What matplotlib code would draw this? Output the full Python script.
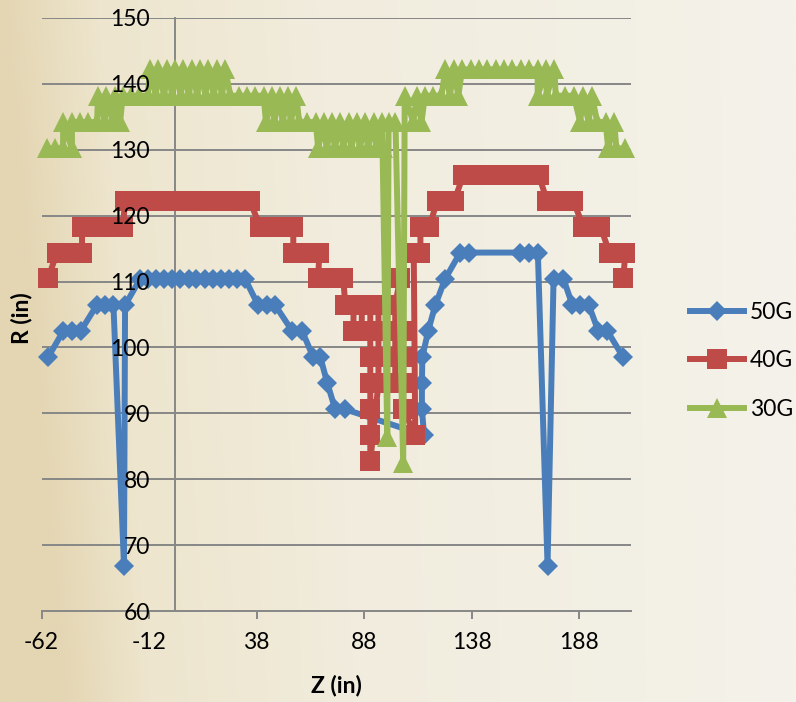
import matplotlib
matplotlib.use("Agg")
import matplotlib.pyplot as plt
import numpy as np
from matplotlib.colors import LinearSegmentedColormap

plt.rcParams['font.family'] = ['Lato', 'DejaVu Sans']
plt.rcParams['axes.unicode_minus'] = False

# ---- data (Z in inches, R in inches) ----
z50 = [-59.0, -51.9, -47.8, -43.8, -36.4, -32.5, -28.6, -23.7, -23.2,
       -16.2, -12.5, -8.7, -5.0, -1.2, 2.5, 6.3, 10.0, 13.8, 17.5, 21.3, 25.0, 28.8, 32.6,
       38.7, 42.9, 46.6, 54.5, 59.1, 64.3, 67.6, 70.8, 74.5, 79.2,
       115.8, 114.8, 114.8, 115.0, 117.7, 121.0, 125.6,
       132.6, 136.5, 160.5, 164.5, 168.7, 173.2,
       176.0, 180.6, 184.8, 188.5, 192.4, 196.8, 201.0, 208.4]
r50 = [98.5, 102.5, 102.5, 102.5, 106.4, 106.4, 106.4, 66.9, 106.4,
       110.4, 110.4, 110.4, 110.4, 110.4, 110.4, 110.4, 110.4, 110.4, 110.4, 110.4, 110.4, 110.4, 110.4,
       106.4, 106.4, 106.4, 102.5, 102.5, 98.5, 98.5, 94.6, 90.6, 90.6,
       86.7, 90.6, 94.6, 98.5, 102.5, 106.4, 110.4,
       114.4, 114.4, 114.4, 114.4, 114.4, 66.9,
       110.4, 110.4, 106.4, 106.4, 106.4, 102.5, 102.5, 98.5]

z40 = [-59.0,
       -54.8, -51.1, -47.4, -43.2,
       -43.2, -39.5, -35.8, -32.1, -28.3, -24.2,
       -23.2, -19.3, -15.4, -11.5, -7.6, -3.8, 0.1, 4.0, 7.9, 11.7, 15.6, 19.5, 23.4, 27.2, 31.1, 34.9,
       39.6, 43.5, 47.4, 51.2, 55.0,
       55.0, 58.9, 62.8, 67.1,
       66.6, 70.5, 74.3, 78.2,
       79.2, 83.1, 82.9, 86.8, 86.9, 90.8, 90.8, 90.8, 90.8, 90.8, 90.8, 90.8,
       94.6, 94.6, 94.6, 94.6, 98.5, 98.5, 98.5, 98.5, 102.4, 102.4, 102.4, 102.4,
       104.7, 106.1, 106.1, 106.1, 106.1, 111.7, 111.0, 114.1, 114.1, 118.3,
       121.8, 125.9, 129.9,
       134.0, 137.9, 141.8, 145.7, 149.6, 153.5, 157.4, 161.3, 165.2, 169.1,
       173.0, 177.0, 181.1, 185.2,
       189.9, 193.8, 197.8,
       202.0, 205.7, 209.4,
       208.4]
r40 = [110.5,
       114.4, 114.4, 114.4, 114.4,
       118.3, 118.3, 118.3, 118.3, 118.3, 118.3,
       122.2, 122.2, 122.2, 122.2, 122.2, 122.2, 122.2, 122.2, 122.2, 122.2, 122.2, 122.2, 122.2, 122.2, 122.2, 122.2,
       118.3, 118.3, 118.3, 118.3, 118.3,
       114.4, 114.4, 114.4, 114.4,
       110.5, 110.5, 110.5, 110.5,
       106.5, 106.5, 102.5, 102.5, 106.5, 106.5, 102.5, 98.5, 94.6, 90.6, 86.7, 82.7,
       94.6, 98.5, 102.5, 106.5, 106.5, 102.5, 98.5, 94.6, 94.6, 98.5, 102.5, 106.5,
       110.5, 102.5, 98.5, 94.6, 90.6, 86.7, 114.4, 114.4, 118.3, 118.3,
       122.2, 122.2, 122.2,
       126.2, 126.2, 126.2, 126.2, 126.2, 126.2, 126.2, 126.2, 126.2, 126.2,
       122.2, 122.2, 122.2, 122.2,
       118.3, 118.3, 118.3,
       114.4, 114.4, 114.4,
       110.5]

z30 = [-59.5, -55.8, -52.0, -52.0, -47.9, -47.9, -44.1, -40.4,
       -36.2, -35.8, -32.5, -32.0, -28.8, -28.1, -25.5, -24.3,
       -20.4, -16.6, -12.7,
       -11.5, -8.9, -7.8, -5.0, -3.6, -1.2, 0.1, 2.7, 3.8, 6.5, 8.0, 10.4, 11.7, 14.2,
       15.4, 18.1, 19.6, 21.9, 23.3,
       25.8, 29.6, 33.5, 37.3, 41.2,
       42.3, 45.0, 46.1, 48.9, 50.0, 52.7, 53.8, 56.4,
       57.7, 61.5, 65.4,
       66.6, 69.2, 70.5, 73.1, 74.3, 76.9, 78.2, 80.8, 82.0, 84.6, 85.9, 88.5, 89.7,
       92.3, 93.6, 96.2, 96.5,
       98.7, 99.3, 102.5, 106.1, 106.8,
       110.8, 112.4, 114.6, 116.2, 120.1, 123.9,
       125.7, 127.8, 129.6, 131.7, 133.5,
       137.4, 141.3, 145.2, 149.1, 153.0, 156.9, 160.8, 164.7,
       168.6, 168.6, 172.5, 172.8, 176.4, 177.0, 181.2, 185.4,
       188.4, 189.6, 192.3, 193.8, 196.3, 200.2,
       201.4, 204.2, 205.2, 209.0]
r30 = [130.2, 130.2, 130.2, 134.2, 130.2, 134.2, 134.2, 134.2,
       134.2, 138.2, 134.2, 138.2, 134.2, 138.2, 134.2, 138.2,
       138.2, 138.2, 138.2,
       142.2, 138.2, 142.2, 138.2, 142.2, 138.2, 142.2, 138.2, 142.2, 138.2, 142.2, 138.2, 142.2, 138.2,
       142.2, 138.2, 142.2, 138.2, 142.2,
       138.2, 138.2, 138.2, 138.2, 138.2,
       134.2, 138.2, 134.2, 138.2, 134.2, 138.2, 134.2, 138.2,
       134.2, 134.2, 134.2,
       130.2, 134.2, 130.2, 134.2, 130.2, 134.2, 130.2, 134.2, 130.2, 134.2, 130.2, 134.2, 130.2,
       134.2, 130.2, 134.2, 130.2,
       86.4, 134.2, 134.2, 82.4, 138.2,
       134.2, 138.2, 134.2, 138.2, 138.2, 138.2,
       142.2, 138.2, 142.2, 138.2, 142.2,
       142.2, 142.2, 142.2, 142.2, 142.2, 142.2, 142.2, 142.2,
       142.2, 138.2, 142.2, 138.2, 142.2, 138.2, 138.2, 138.2,
       134.2, 138.2, 134.2, 138.2, 134.2, 134.2,
       130.2, 134.2, 130.2, 130.2]

series = [('50G', z50, r50, 'D', '#4A7EBB', 10.0),
          ('40G', z40, r40, 's', '#BE4B48', 14.0),
          ('30G', z30, r30, '^', '#98B954', 14.5)]

x_ticks = [-62, -12, 38, 88, 138, 188]
y_ticks = [60, 70, 80, 90, 100, 110, 120, 130, 140, 150]

# ---- figure ----
fig = plt.figure(figsize=(7.96, 7.02), dpi=100)

# beige gradient background
bg = fig.add_axes([0, 0, 1, 1], zorder=-10)
cmap = LinearSegmentedColormap.from_list('bg', [(0.0, '#E4D6B3'), (0.12, '#EDE5CD'),
                                                (0.4, '#F1ECDD'), (1.0, '#F4F2EA')])
gx = np.linspace(0, 1, 400)[None, :] * np.ones((50, 1))
gy = np.linspace(0, 0.08, 50)[:, None]
bg.imshow(np.clip(gx - gy * (1 - gx), 0, 1), aspect='auto', cmap=cmap, extent=[0, 1, 0, 1],
          vmin=0, vmax=1)
bg.axis('off')

ax = fig.add_axes([41.6 / 796, 1 - 611 / 702, (631 - 41.6) / 796, (611 - 18) / 702])
ax.set_facecolor('none')

grid_col = '#878787'
for y in y_ticks[1:]:
    ax.axhline(y, color=grid_col, lw=1.4, zorder=1)

for name, z, r, mk, col, ms in series:
    ax.plot(z, r, color=col, lw=4.3, marker=mk, ms=ms, mfc=col, mec=col, mew=0,
            label=name, solid_joinstyle='round', clip_on=False, zorder=3)

ax.set_xlim(-62, 212)
ax.set_ylim(60, 150)
ax.set_xticks(x_ticks)
ax.set_yticks(y_ticks)

for s in ['top', 'right']:
    ax.spines[s].set_visible(False)
ax.spines['left'].set_position(('data', 0))
for s in ['left', 'bottom']:
    ax.spines[s].set_color(grid_col)
    ax.spines[s].set_linewidth(1.4)
    ax.spines[s].set_zorder(1.5)

ax.tick_params(axis='x', direction='out', length=6, width=1.4, color=grid_col,
               labelsize=16.5, pad=9)
ax.tick_params(axis='y', length=0, labelsize=16.5, pad=18)
# tick labels sit on top of the data, as in the original
ax.xaxis.set_zorder(5)
ax.yaxis.set_zorder(5)

fig.text(336 / 796, 1 - 686 / 702, 'Z (in)', ha='center', va='center',
         fontsize=16.5, fontweight='bold')
fig.text(22 / 796, 1 - 318 / 702, 'R (in)', ha='center', va='center',
         rotation=90, fontsize=16.5, fontweight='bold')

ax.legend(loc='center left', bbox_to_anchor=(690 / 796, 1 - 361 / 702),
          bbox_transform=fig.transFigure, frameon=False, fontsize=16.5,
          handlelength=2.35, handletextpad=0.25, labelspacing=1.22,
          borderpad=0, borderaxespad=0)

fig.savefig('out.png', dpi=100)
